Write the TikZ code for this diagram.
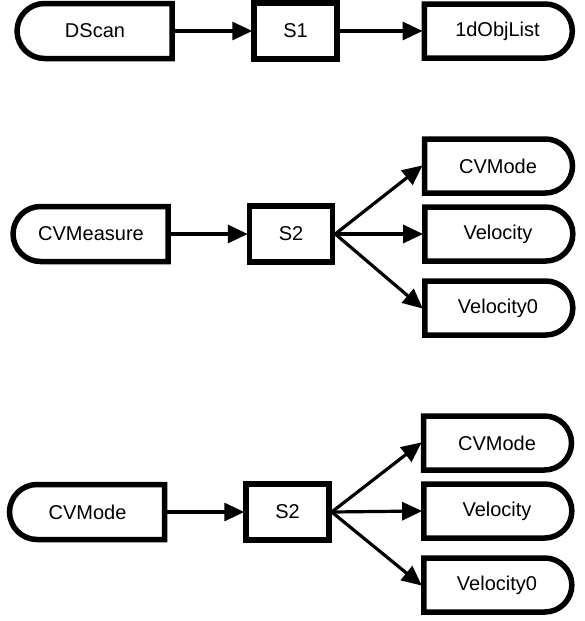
\documentclass[tikz,border=0pt]{standalone}
\usepackage{fontspec}
\setmainfont{Liberation Sans}
\usetikzlibrary{arrows.meta,shapes.misc}
\tikzset{
  base/.style={line width=5.5pt, font=\fontsize{20}{24}\selectfont, inner sep=0pt},
  inbox/.style={base, draw, rounded rectangle, rounded rectangle right arc=none,
     minimum width=155pt, minimum height=55pt},
  outbox/.style={base, draw, rounded rectangle, rounded rectangle left arc=none,
     minimum width=148pt, minimum height=54pt},
  procbox/.style={base, draw, rectangle, minimum width=83pt, minimum height=56pt},
  conn/.style={line width=3.2pt, -{Triangle[length=20pt,width=18pt]}, shorten >=-1pt}
}
\begin{document}
\begin{tikzpicture}[x=1pt,y=-1pt]
\useasboundingbox (0,0) rectangle (585,621);
% row 1
\node[inbox]   (dscan) at (95,31)    {DScan};
\node[procbox] (s1)    at (295.5,31) {S1};
\node[outbox]  (obj)   at (497.5,31) {1dObjList};
\draw[conn] (dscan.east) -- (s1.west);
\draw[conn] (s1.east) -- (obj.west);
% row 2
\node[inbox]   (cvm)   at (91,234)   {CVMeasure};
\node[procbox] (s2a)   at (291,234)  {S2};
\node[outbox]  (moda)  at (498,166)  {CVMode};
\node[outbox]  (vela)  at (498,234)  {Velocity};
\node[outbox]  (velza) at (498,308)  {Velocity0};
\draw[conn] (cvm.east) -- (s2a.west);
\draw[conn] (s2a.east) -- (moda.west);
\draw[conn] (s2a.east) -- (vela.west);
\draw[conn] (s2a.east) -- (velza.west);
% row 3
\node[inbox]   (cvmode) at (87.5,512)  {CVMode};
\node[procbox] (s2b)    at (287.5,512) {S2};
\node[outbox]  (modb)   at (497,443)   {CVMode};
\node[outbox]  (velb)   at (497,511)   {Velocity};
\node[outbox]  (velzb)  at (497,585)   {Velocity0};
\draw[conn] (cvmode.east) -- (s2b.west);
\draw[conn] (s2b.east) -- (modb.west);
\draw[conn] (s2b.east) -- (velb.west);
\draw[conn] (s2b.east) -- (velzb.west);
\end{tikzpicture}
\end{document}
